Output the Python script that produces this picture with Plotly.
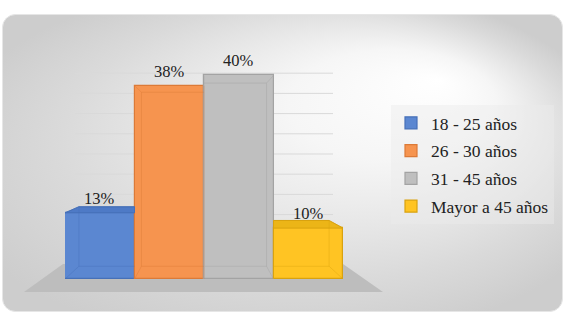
import base64
import plotly.graph_objects as go

# ---- data ----
categories = ["18 - 25 años", "26 - 30 años", "31 - 45 años", "Mayor a 45 años"]
values = [13, 38, 40, 10]
labels = ["13%", "38%", "40%", "10%"]
grid_values = [5, 10, 15, 20, 25, 30, 35, 40, 45]

# ---- styles ----
fill_colors = ["#5B87D1", "#F6944F", "#BFBFBF", "#FFC423"]
edge_colors = ["#4670B8", "#DC7A37", "#A3A3A3", "#D9A20F"]
top_colors = ["#4E7AC6", "#E88440", "#ADADAD", "#ECB517"]
FONT = "Liberation Serif"

W, H = 564, 314
L, R, T, B = 65, 221, 50, 35
PW, PH = W - L - R, H - T - B

# perspective of the pseudo-3D boxes (vanishing point in data units, depth scale)
VX = (len(categories) - 1) / 2
VY = 25.0
S = 0.9


def px_x(px):
    return (px - L) / PW


def px_y(py):
    return (H - B - py) / PH


def back(x, y):
    return VX + S * (x - VX), VY + S * (y - VY)


def hex_rgba(h, a):
    h = h.lstrip("#")
    return f"rgba({int(h[0:2],16)},{int(h[2:4],16)},{int(h[4:6],16)},{a})"


xs = list(range(len(categories)))
fig = go.Figure()
for xi, cat, val, fc, ec in zip(xs, categories, values, fill_colors, edge_colors):
    fig.add_trace(go.Bar(
        x=[xi], y=[val], name=cat, legendgroup=cat,
        marker=dict(color=fc, line=dict(color=ec, width=1.2)),
        width=1, hoverinfo="skip",
    ))

# pseudo-3D details: top faces and back edges seen through the boxes
for xi, val, ec, tc in zip(xs, values, edge_colors, top_colors):
    xl, xr = xi - 0.5, xi + 0.5
    (bxl, byb), (bxr, byt) = back(xl, 0), back(xr, val)
    cxl, cxr = max(bxl, xl), min(bxr, xr)
    if byt > val:  # top face visible
        fig.add_trace(go.Scatter(
            x=[xl, cxl, cxr, xr, xl],
            y=[val, byt, byt, val, val],
            fill="toself", fillcolor=tc, mode="lines",
            line=dict(color=ec, width=1), showlegend=False, hoverinfo="skip",
        ))
    lx = [cxl, cxr, None, cxl, cxr, None]
    ly = [byb, byb, None, byt, byt, None]
    if bxl >= xl:
        lx += [bxl, bxl, None, xl, bxl, None, xl, bxl, None]
        ly += [byb, byt, None, 0, byb, None, val, byt, None]
    if bxr <= xr:
        lx += [bxr, bxr, None, xr, bxr, None, xr, bxr, None]
        ly += [byb, byt, None, 0, byb, None, val, byt, None]
    fig.add_trace(go.Scatter(
        x=lx, y=ly, mode="lines", line=dict(color=hex_rgba(ec, 0.4), width=1),
        showlegend=False, hoverinfo="skip",
    ))

for xi, val, lab in zip(xs, values, labels):
    fig.add_annotation(
        x=xi, y=val, text=lab, showarrow=False, yanchor="bottom", yshift=3,
        font=dict(family=FONT, size=16.5, color="#222222"),
    )

# back wall gridlines on their own (perspective) scale
shapes = []
for g in grid_values:
    shapes.append(dict(
        type="line", xref="paper", yref="y2", x0=px_x(75), x1=px_x(333),
        y0=g, y1=g, layer="below", line=dict(color="#d9d9d9", width=1),
    ))

# floor
fx = [px_x(63), px_x(343), px_x(383), px_x(24)]
fy = [px_y(264), px_y(264), px_y(292), px_y(292)]
path = "M " + " L ".join(f"{a},{b}" for a, b in zip(fx, fy)) + " Z"
shapes.append(dict(type="path", xref="paper", yref="paper", path=path,
                   fillcolor="#bdbdbd", line=dict(width=0), layer="below"))

svg = f'''<svg xmlns="http://www.w3.org/2000/svg" width="{W}" height="{H}" viewBox="0 0 {W} {H}" preserveAspectRatio="none">
<defs><radialGradient id="g" cx="0.5" cy="0.5" r="0.62" fx="0.78" fy="0.22">
<stop offset="0" stop-color="#ffffff"/><stop offset="0.3" stop-color="#f6f6f6"/>
<stop offset="0.75" stop-color="#dadada"/><stop offset="1" stop-color="#cdcdcd"/></radialGradient></defs>
<rect x="2.5" y="14.5" width="560" height="297" rx="13" ry="13" fill="url(#g)" stroke="#e6e6e6" stroke-width="1"/></svg>'''
src = "data:image/svg+xml;base64," + base64.b64encode(svg.encode()).decode()

fig.update_layout(
    width=W, height=H,
    margin=dict(l=L, r=R, t=T, b=B, pad=0, autoexpand=False),
    paper_bgcolor="white", plot_bgcolor="rgba(0,0,0,0)",
    barmode="overlay", bargap=0,
    showlegend=True,
    font=dict(family=FONT),
    legend=dict(
        x=px_x(391), y=px_y(105), xanchor="left", yanchor="top",
        font=dict(family=FONT, size=17.5, color="#222222"),
        bgcolor="rgba(236,236,236,0.45)", traceorder="grouped", tracegroupgap=2,
    ),
    xaxis=dict(range=[-0.5, 3.5], visible=False, fixedrange=True),
    yaxis=dict(range=[0, 45], visible=False, fixedrange=True),
    yaxis2=dict(range=[(255 - (H - B)) / 4.04, (255 - T) / 4.04], overlaying="y",
                anchor="x", visible=False),
    shapes=shapes,
    images=[dict(source=src, xref="paper", yref="paper", x=-L / PW, y=1 + T / PH,
                 sizex=W / PW, sizey=H / PH, xanchor="left", yanchor="top",
                 sizing="stretch", layer="below")],
)

fig.write_html("out.html")
